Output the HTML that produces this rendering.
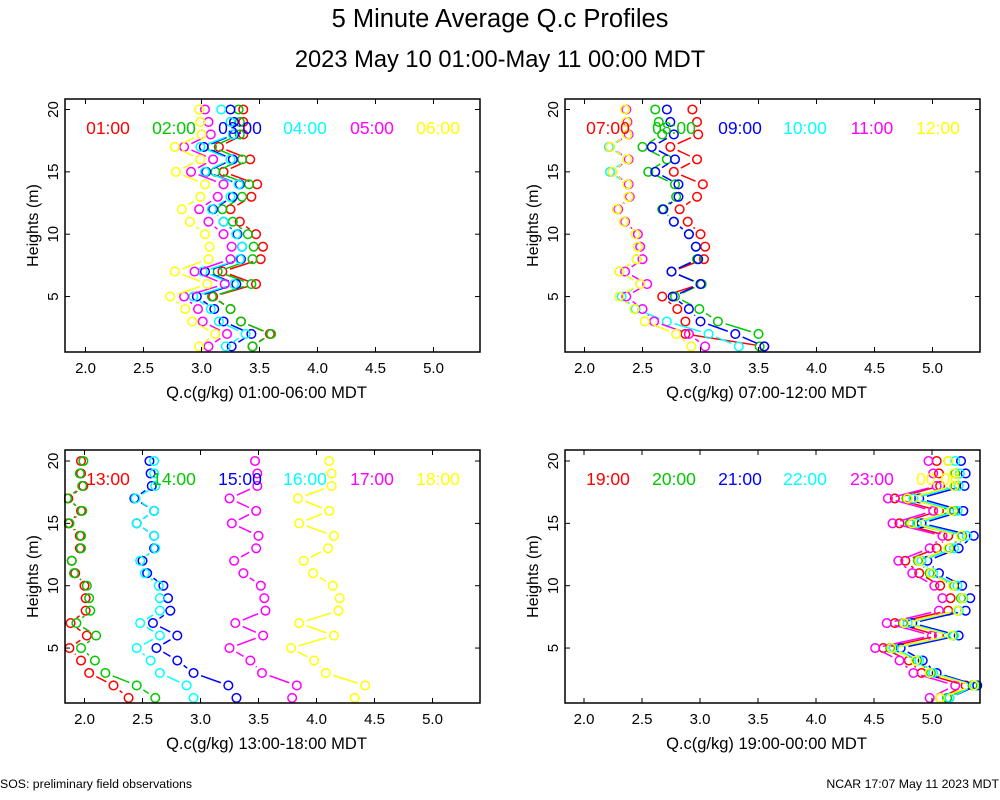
<!DOCTYPE html>
<html><head><meta charset="utf-8"><style>
html,body{margin:0;padding:0;background:#fff;}
svg{display:block;font-family:"Liberation Sans",sans-serif;}
</style></head><body>
<svg id="chart" width="1000" height="800" xmlns="http://www.w3.org/2000/svg">
<rect width="1000" height="800" fill="#fff"/>
<text x="500" y="27" font-size="25.5" text-anchor="middle">5 Minute Average Q.c Profiles</text>
<text x="500" y="67" font-size="23.7" text-anchor="middle">2023 May 10 01:00-May 11 00:00 MDT</text>
<text x="0" y="788" font-size="12.3">SOS: preliminary field observations</text>
<text x="999" y="788" font-size="12.3" text-anchor="end">NCAR 17:07 May 11 2023 MDT</text>
<g id="panels"></g>
</svg>
<script>
const heights = [20,19,18,17,16,15,14,13,12,11,10,9,8,7,6,5,4,3,2,1];
const colors = ["#ff0000","#00c800","#0000ff","#00ffff","#ff00ff","#ffff00"];
const xTicks = ["2.0","2.5","3.0","3.5","4.0","4.5","5.0"];
const yTicks = [5,10,15,20];
const panelTitles = ["Q.c(g/kg) 01:00-06:00 MDT","Q.c(g/kg) 07:00-12:00 MDT","Q.c(g/kg) 13:00-18:00 MDT","Q.c(g/kg) 19:00-00:00 MDT"];
const legendLabels1 = ["01:00","02:00","03:00","04:00","05:00","06:00"];
const legendLabels2 = ["07:00","08:00","09:00","10:00","11:00","12:00"];
const legendLabels3 = ["13:00","14:00","15:00","16:00","17:00","18:00"];
const legendLabels4 = ["19:00","20:00","21:00","22:00","23:00","00:00"];
const p1s1 = [3.36,3.36,3.36,3.15,3.42,3.19,3.48,3.43,3.25,3.33,3.47,3.53,3.51,3.18,3.47,3.10,3.25,3.34,3.59,3.44];
const p1s2 = [3.32,3.33,3.33,3.09,3.35,3.12,3.41,3.35,3.18,3.27,3.40,3.45,3.44,3.14,3.43,3.09,3.25,3.34,3.60,3.44];
const p1s3 = [3.25,3.28,3.28,3.02,3.27,3.04,3.33,3.27,3.10,3.19,3.31,3.35,3.34,3.03,3.30,2.96,3.11,3.19,3.43,3.26];
const p1s4 = [3.17,3.25,3.27,2.99,3.25,3.03,3.32,3.25,3.09,3.19,3.30,3.35,3.33,3.01,3.28,2.93,3.08,3.15,3.38,3.21];
const p1s5 = [3.03,3.06,3.08,2.85,3.10,2.91,3.19,3.14,2.98,3.06,3.19,3.26,3.25,2.94,3.20,2.85,2.97,3.01,3.22,3.06];
const p1s6 = [2.98,2.99,3.00,2.77,2.99,2.78,3.03,2.99,2.83,2.90,3.03,3.07,3.06,2.77,3.05,2.73,2.86,2.92,3.12,2.98];
const p2s1 = [2.93,2.97,2.98,2.74,2.97,2.77,3.02,2.97,2.82,2.89,3.00,3.04,3.03,2.75,3.00,2.67,2.80,2.87,2.87,3.55];
const p2s2 = [2.61,2.64,2.67,2.50,2.71,2.55,2.78,2.79,2.67,2.77,2.90,2.96,2.97,2.75,3.01,2.78,2.99,3.15,3.50,3.51];
const p2s3 = [2.71,2.74,2.77,2.58,2.78,2.61,2.81,2.81,2.68,2.77,2.90,2.96,2.98,2.75,3.00,2.76,2.90,3.00,3.30,3.55];
const p2s4 = [2.35,2.36,2.37,2.21,2.37,2.22,2.37,2.38,2.28,2.34,2.44,2.46,2.45,2.30,2.48,2.32,2.44,2.71,3.07,3.33];
const p2s5 = [2.36,2.37,2.38,2.22,2.38,2.24,2.38,2.39,2.29,2.35,2.46,2.48,2.50,2.35,2.54,2.36,2.50,2.60,2.90,3.04];
const p2s6 = [2.35,2.36,2.37,2.22,2.37,2.24,2.37,2.38,2.28,2.34,2.44,2.46,2.45,2.30,2.48,2.30,2.43,2.52,2.79,2.92];
const p3s1 = [1.97,1.97,1.99,1.86,1.97,1.86,1.96,1.96,1.89,1.92,2.00,2.01,2.01,1.88,2.02,1.87,1.97,2.04,2.25,2.38];
const p3s2 = [1.99,1.96,1.98,1.85,1.98,1.87,1.97,1.97,1.89,1.91,2.02,2.04,2.05,1.93,2.10,1.97,2.09,2.18,2.45,2.61];
const p3s3 = [2.56,2.57,2.58,2.43,2.60,2.45,2.60,2.60,2.50,2.54,2.68,2.72,2.74,2.59,2.80,2.62,2.80,2.94,3.24,3.31];
const p3s4 = [2.60,2.60,2.61,2.44,2.60,2.45,2.60,2.61,2.48,2.52,2.64,2.65,2.65,2.48,2.65,2.45,2.57,2.65,2.88,2.94];
const p3s5 = [3.47,3.49,3.49,3.25,3.48,3.27,3.50,3.48,3.29,3.37,3.52,3.55,3.56,3.30,3.54,3.25,3.43,3.53,3.83,3.79];
const p3s6 = [4.11,4.13,4.13,3.84,4.11,3.85,4.15,4.10,3.89,3.97,4.14,4.20,4.19,3.85,4.15,3.78,3.98,4.08,4.42,4.33];
const p4s1 = [5.04,5.06,5.07,4.68,5.06,4.72,5.14,5.04,4.77,4.89,5.07,5.16,5.14,4.68,5.06,4.58,4.80,4.91,5.29,5.07];
const p4s2 = [5.14,5.20,5.20,4.78,5.19,4.81,5.26,5.15,4.88,4.98,5.19,5.25,5.22,4.75,5.18,4.64,4.87,4.99,5.35,5.13];
const p4s3 = [5.25,5.29,5.28,4.89,5.27,4.91,5.36,5.23,4.96,5.06,5.26,5.33,5.29,4.83,5.23,4.73,4.92,5.04,5.39,5.15];
const p4s4 = [5.20,5.24,5.23,4.84,5.22,4.87,5.30,5.19,4.91,5.01,5.22,5.27,5.23,4.79,5.19,4.67,4.89,5.01,5.37,5.15];
const p4s5 = [4.97,5.01,5.04,4.62,5.01,4.66,5.09,4.98,4.71,4.83,5.02,5.09,5.06,4.61,5.00,4.51,4.72,4.84,5.20,4.98];
const p4s6 = [5.14,5.19,5.19,4.79,5.17,4.83,5.25,5.14,4.89,4.99,5.18,5.26,5.22,4.76,5.17,4.65,4.86,4.98,5.36,5.07];

const NS = "http://www.w3.org/2000/svg";
const root = document.getElementById("panels");
function mk(tag, attrs, parent){ const e=document.createElementNS(NS,tag); for(const k in attrs) e.setAttribute(k,attrs[k]); (parent||root).appendChild(e); return e; }

const panels = [
  {left:65,top:99,x0:85.5,y20:109.5,series:[p1s1,p1s2,p1s3,p1s4,p1s5,p1s6],legend:legendLabels1,lx:[108,174,240,305,372,438]},
  {left:565,top:99,x0:584.5,y20:109.5,series:[p2s1,p2s2,p2s3,p2s4,p2s5,p2s6],legend:legendLabels2,lx:[608,674,740,805,872,938]},
  {left:65,top:450,x0:84.5,y20:461,series:[p3s1,p3s2,p3s3,p3s4,p3s5,p3s6],legend:legendLabels3,lx:[108,174,240,305,372,438]},
  {left:565,top:450,x0:584,y20:461,series:[p4s1,p4s2,p4s3,p4s4,p4s5,p4s6],legend:legendLabels4,lx:[608,674,740,805,872,938]}
];
const W=415, H=253, XS=116, YS=12.47;

panels.forEach((p,pi)=>{
  const g = mk("g",{});
  
  
  const xOf = v => p.x0 + (v-2)*XS;
  const yOf = h => p.y20 + (20-h)*YS;
  p.series.forEach((vals,si)=>{
    const sg = mk("g",{},g);
    
    
    for(let i=0;i<heights.length-1;i++){
      const xa=xOf(vals[i]), ya=yOf(heights[i]), xb=xOf(vals[i+1]), yb=yOf(heights[i+1]);
      const dx=xb-xa, dy=yb-ya, L=Math.hypot(dx,dy), s=8;
      if(L>2*s+1){
        const ln = mk("line",{x1:xa+dx*s/L,y1:ya+dy*s/L,x2:xb-dx*s/L,y2:yb-dy*s/L,stroke:colors[si],"stroke-width":1.5},sg);
        
        
      }
    }
    vals.forEach((v,i)=>{
      const c = mk("circle",{cx:xOf(v),cy:yOf(heights[i]),r:4.3,fill:"none",stroke:colors[si],"stroke-width":1.5},sg);
      
      
    });
  });
  const clipL = mk("rect",{x:p.left-60,y:p.top,width:59,height:H,fill:"#fff"},g);
  
  
  const fr = mk("rect",{x:p.left,y:p.top,width:W,height:H,fill:"none",stroke:"#000","stroke-width":1.5},g);
  
  
  xTicks.forEach(t=>{
    const x = xOf(parseFloat(t));
    mk("line",{x1:x,y1:p.top,x2:x,y2:p.top+5,stroke:"#000"},g);
    mk("line",{x1:x,y1:p.top+H,x2:x,y2:p.top+H-5,stroke:"#000"},g);
    const tx = mk("text",{x:x,y:p.top+H+21,"font-size":15,"text-anchor":"middle"},g);
    tx.textContent=t;
    
    
  });
  yTicks.forEach(t=>{
    const y = yOf(t);
    mk("line",{x1:p.left,y1:y,x2:p.left+5,y2:y,stroke:"#000"},g);
    mk("line",{x1:p.left+W,y1:y,x2:p.left+W-5,y2:y,stroke:"#000"},g);
    const tx = mk("text",{x:0,y:0,"font-size":15,"text-anchor":"middle",transform:`translate(${p.left-7},${y}) rotate(-90)`},g);
    tx.textContent=String(t);
    
    
  });
  const xt = mk("text",{x:p.left+W/2-6,y:p.top+H+46,"font-size":16.5,"text-anchor":"middle"},g);
  xt.textContent = panelTitles[pi];
  
  
  const yt = mk("text",{x:0,y:0,"font-size":16,"text-anchor":"middle",transform:`translate(${p.left-27},${p.top+H/2}) rotate(-90)`},g);
  yt.textContent = "Heights (m)";
  
  
  p.legend.forEach((l,i)=>{
    const lt = mk("text",{x:p.lx[i],y:p.top+35,"font-size":17.5,"text-anchor":"middle",fill:colors[i]},g);
    lt.textContent=l;
    
    
  });
});
</script>
</body></html>
